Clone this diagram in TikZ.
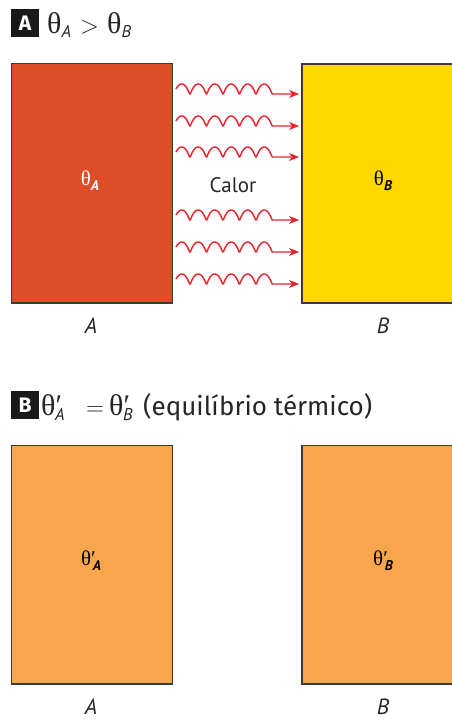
\documentclass[tikz,border=0pt]{standalone}
\usepackage{fontspec}
\setmainfont{Fira Sans}
\newfontfamily\grk{Liberation Serif}
\newfontfamily\lbl{PT Sans}
\usetikzlibrary{arrows.meta}
\definecolor{boxA}{HTML}{DD4E27}
\definecolor{boxB}{HTML}{FFD800}
\definecolor{boxEq}{HTML}{F9A54B}
\definecolor{wavered}{HTML}{E8202A}
\definecolor{edge}{HTML}{3A3A3A}
\tikzset{
  body/.style={draw=edge, line width=1.4pt},
  tag/.style={fill=black!90, text=white, font=\fontsize{21}{21}\selectfont\bfseries, minimum width=28pt, minimum height=28pt, inner sep=0pt},
  heading/.style={anchor=base west, inner sep=0pt, font=\fontsize{26}{26}\selectfont, text=black!85},
  caplabel/.style={font=\lbl\fontsize{22}{22}\selectfont\itshape, text=black!85, inner sep=0pt},
  inlabel/.style={font=\grk\fontsize{21}{21}\selectfont},
  heatwave/.style={draw=wavered, line width=1.4pt, -{Stealth[length=10pt,width=8pt]}}
}
\newcommand{\subsc}[1]{\raisebox{-5pt}{\fontsize{17}{17}\selectfont\lbl\itshape #1}}
\newcommand{\insub}[1]{\raisebox{-5pt}{\fontsize{14}{14}\selectfont\lbl\bfseries\itshape #1}}
\begin{document}
\begin{tikzpicture}[x=1pt,y=-1pt]
\useasboundingbox (0,0) rectangle (452,720);
\clip (0,0) rectangle (452,720);
% Part A
\node[tag] (tagA) at (25,23) {A};
\node[heading, font=\grk\fontsize{30}{30}\selectfont] (headA1) at (47,33) {θ\subsc{A}};
\node[heading, font=\fontsize{30}{30}\selectfont] (headA2) at (80,33) {$>$};
\node[heading, font=\grk\fontsize{30}{30}\selectfont] (headA3) at (107,33) {θ\subsc{B}};
\path[fill=boxA, body] (11.5,63.5) rectangle (172.5,303);
\path[fill=boxB, body] (302,64) rectangle (470,303);
\node[inlabel, text=white] (tA) at (90,181) {θ\insub{A}};
\node[inlabel, text=black] (tB) at (383,181) {θ\insub{B}};
\node[font=\lbl\fontsize{21}{21}\selectfont, text=black!85] (calor) at (233,185) {Calor};
\foreach \yc in {89,121,152,215,247,279}{
  \draw[heatwave] plot[domain=0.25:6, samples=200] ({173.45+16.5*\x-1.576*sin(360*\x)},{\yc+5*cos(360*\x)}) -- (299,\yc+5);
}
\node[caplabel] (labA) at (91,326) {A};
\node[caplabel] (labB) at (383,326) {B};
% Part B
\node[tag] (tagB) at (25,405) {B};
\node[heading, font=\grk\fontsize{30}{30}\selectfont] (headB1) at (41,415) {θ′\hspace{-7pt}\subsc{A}};
\node[heading, font=\fontsize{30}{30}\selectfont] (headB2) at (86,415) {$=$};
\node[heading, font=\grk\fontsize{30}{30}\selectfont] (headB3) at (109,415) {θ′\hspace{-7pt}\subsc{B}};
\node[heading] (headB4) at (143,415) {(equilíbrio térmico)};
\path[fill=boxEq, body] (11.5,445.5) rectangle (172.5,684);
\path[fill=boxEq, body] (302,445.5) rectangle (470,684);
\node[inlabel, text=black] (tA2) at (91,561) {θ′\hspace{-3pt}\insub{A}};
\node[inlabel, text=black] (tB2) at (383,561) {θ′\hspace{-3pt}\insub{B}};
\node[caplabel] (labA2) at (91,707) {A};
\node[caplabel] (labB2) at (383,707) {B};
\end{tikzpicture}
\end{document}
